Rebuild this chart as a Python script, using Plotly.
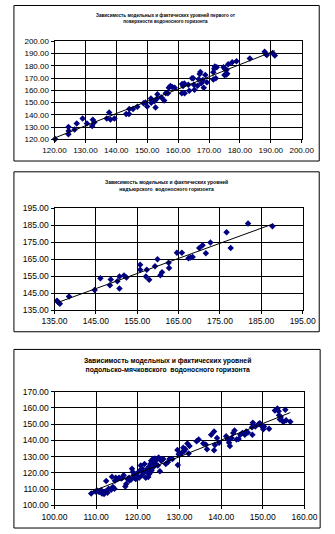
import numpy as np
import plotly.graph_objects as go

W, H = 335, 534

# ---------- Panel 1 data ----------
title1 = "Зависимость модельных и фактических уровней первого от<br>поверхности водоносного горизонта"
x1 = [120.2, 124.5, 124.6, 124.5, 126.5, 127.2, 129.1, 130.5, 132.2, 132.4, 132.9, 136.9, 137.7, 138.1,
      139.4, 143.2, 144.1, 144.2, 145.4, 146.8, 148.8, 149.4, 150.0, 151.2, 151.3, 152.3, 152.7, 153.1,
      153.3, 154.6, 155.5, 156.0, 156.7, 157.0, 157.5, 158.1, 158.9, 161.2, 161.3, 161.6, 162.0, 162.1,
      163.3, 163.6, 164.5, 164.9, 165.1, 165.3, 166.3, 166.7, 167.0, 167.2, 167.5, 168.0, 168.3, 168.8,
      169.3, 171.4, 171.4, 171.7, 171.9, 172.2, 172.5, 174.7, 175.0, 175.2, 175.5, 175.7, 175.9, 176.2,
      177.5, 178.9, 183.2, 188.0, 188.4, 188.7, 190.6, 191.3]
y1 = [120.3, 130.1, 126.9, 124.3, 128.0, 133.0, 137.0, 133.0, 131.0, 136.0, 134.0, 137.0, 141.9, 136.3,
      137.0, 140.8, 140.8, 144.8, 144.8, 146.7, 149.6, 150.1, 146.9, 153.3, 149.9, 151.2, 146.1, 153.1,
      156.8, 154.1, 151.7, 157.6, 157.6, 162.1, 163.5, 162.7, 162.1, 157.6, 165.1, 163.5, 165.6, 157.6,
      164.5, 159.7, 169.9, 169.9, 164.5, 160.5, 163.7, 169.1, 173.3, 174.9, 165.9, 168.5, 162.1, 172.5,
      166.7, 168.8, 174.7, 177.6, 179.5, 169.9, 178.9, 178.9, 172.5, 177.3, 172.8, 176.8, 173.6, 181.3,
      182.9, 183.7, 185.9, 191.5, 189.6, 188.8, 190.4, 188.5]

# ---------- Panel 2 data ----------
title2 = "Зависимость модельных и фактических уровней<br>надъюрского  водоносного горизонта"
x2 = [135.6, 135.9, 136.3, 138.5, 144.7, 146.1, 148.4, 148.6, 150.2, 150.7, 150.7, 151.8, 152.4, 155.7,
      155.7, 157.1, 157.3, 157.9, 159.3, 159.9, 160.6, 161.0, 162.6, 162.7, 164.6, 165.8, 167.4, 167.9,
      168.4, 170.0, 170.8, 171.6, 172.7, 176.6, 177.6, 181.8, 187.7]
y2 = [140.6, 139.6, 138.8, 143.1, 146.9, 153.8, 149.7, 153.1, 152.0, 154.8, 147.7, 155.4, 154.2, 161.7,
      158.7, 154.8, 158.7, 152.9, 160.8, 165.0, 155.6, 157.3, 162.9, 159.8, 168.8, 168.8, 165.6, 166.0,
      166.3, 171.5, 173.1, 168.5, 174.8, 180.8, 171.5, 185.9, 184.4]

# ---------- Panel 3 data ----------
title3 = "Зависимость модельных и фактических уровней<br>подольско-мячковского  водоносного горизонта"
x3 = [108.8, 109.8, 110.3, 110.7, 111.2, 111.4, 111.9, 112.2, 112.4, 112.7, 113.0, 113.6, 114.0, 113.8,
      114.4, 114.5, 114.7, 115.1, 115.5, 116.0, 116.3, 116.6, 117.0, 117.2, 117.5, 117.9, 118.0, 118.4,
      118.6, 118.8, 119.0, 119.2, 119.5, 119.7, 119.9, 120.3, 120.5, 120.7, 121.0, 121.1, 121.4, 121.6,
      121.9, 122.1, 122.3, 122.5, 122.6, 122.8, 123.0, 123.2, 123.3, 123.6, 123.7, 123.9, 124.1, 124.3,
      124.5, 124.8, 125.0, 125.3, 125.6, 126.1, 126.7, 127.2, 127.6, 128.3, 129.5, 129.6, 129.8, 130.2,
      130.6, 130.9, 131.1, 131.4, 131.9, 132.2, 132.4, 134.1, 134.6, 135.7, 136.3, 136.6, 137.6, 138.3,
      138.3, 138.5, 139.0, 139.5, 141.2, 141.6, 141.9, 142.1, 142.5, 142.9, 143.2, 143.7, 144.2, 144.6,
      145.1, 145.7, 146.0, 146.4, 147.4, 147.6, 147.5, 148.2, 149.0, 149.3, 149.7, 150.1, 150.3, 151.5,
      152.9, 153.5, 153.8, 153.9, 154.1, 154.3, 154.7, 155.0, 155.4, 155.6, 156.6]
y3 = [107.4, 108.6, 109.0, 108.2, 109.4, 107.4, 107.0, 108.6, 115.0, 107.8, 110.2, 109.6, 111.4, 117.7,
      110.2, 115.2, 117.0, 116.2, 117.0, 116.5, 117.1, 118.5, 111.6, 113.2, 116.2, 117.0, 115.4, 116.0,
      122.5, 120.5, 118.5, 117.0, 116.2, 119.5, 117.5, 117.0, 121.5, 124.5, 118.5, 122.5, 120.1, 125.5,
      117.0, 120.5, 122.5, 117.5, 123.5, 119.5, 125.5, 127.5, 121.5, 128.5, 123.5, 126.5, 128.9, 125.5,
      128.1, 124.5, 129.5, 121.0, 127.5, 128.5, 125.5, 126.5, 128.5, 128.5, 134.1, 124.9, 131.5, 131.5,
      132.5, 135.5, 133.5, 134.5, 138.1, 131.9, 136.5, 139.5, 140.5, 138.1, 137.5, 134.5, 143.5, 145.5,
      133.9, 137.1, 141.5, 138.5, 142.5, 140.5, 138.5, 136.5, 141.5, 144.5, 146.1, 140.5, 140.9, 143.5,
      144.5, 143.5, 145.5, 144.9, 148.1, 150.9, 143.5, 148.5, 150.1, 150.5, 148.9, 146.9, 148.5, 147.1,
      158.4, 159.6, 158.0, 155.4, 152.8, 154.4, 152.0, 151.5, 158.8, 152.4, 151.5]

panels = [
    dict(x=x1, y=y1, title=title1, xr=[120, 200], yr=[120, 200],
         px=(45, 313), py=(37, 137), box=(1, 332, 0.5, 159), tpos=(166, 13.5), tfs=4.6, fs=8),
    dict(x=x2, y=y2, title=title2, xr=[135, 195], yr=[135, 195],
         px=(45, 314), py=(207, 311), box=(1, 332, 170, 333), tpos=(166, 184), tfs=5.0, fs=8.5),
    dict(x=x3, y=y3, title=title3, xr=[100, 160], yr=[100, 170],
         px=(45, 316), py=(394, 510), box=(1, 333, 351, 533), tpos=(168, 367.5), tfs=6.8, fs=8.5),
]

fig = go.Figure()
shapes = []
annotations = []
for i, p in enumerate(panels, start=1):
    xa = "x" if i == 1 else f"x{i}"
    ya = "y" if i == 1 else f"y{i}"
    xs = np.array(p["x"])
    ys = np.array(p["y"])
    k, b = np.polyfit(xs, ys, 1)
    lx = np.array([xs.min(), xs.max()])
    fig.add_trace(go.Scatter(x=xs, y=ys, mode="markers", xaxis=xa, yaxis=ya, cliponaxis=False,
                             marker=dict(symbol="diamond", size=5, color="#000080",
                                         line=dict(width=0)),
                             showlegend=False))
    fig.add_trace(go.Scatter(x=lx, y=k * lx + b, mode="lines", xaxis=xa, yaxis=ya,
                             line=dict(color="black", width=1), showlegend=False))
    axcommon = dict(showgrid=True, gridcolor="black", gridwidth=1, showline=True,
                    linecolor="black", linewidth=1, mirror=True, ticks="outside",
                    ticklen=3, tickcolor="black", tickformat=".2f", dtick=10,
                    zeroline=False, tickfont=dict(family="Liberation Sans, Arial", size=p["fs"], color="black"))
    fig.layout[f"xaxis{'' if i == 1 else i}"] = dict(
        axcommon, range=p["xr"], tick0=p["xr"][0], anchor=ya,
        domain=[p["px"][0] / W, p["px"][1] / W], tickangle=0)
    fig.layout[f"yaxis{'' if i == 1 else i}"] = dict(
        axcommon, range=p["yr"], tick0=p["yr"][0], anchor=xa,
        domain=[1 - p["py"][1] / H, 1 - p["py"][0] / H])
    x0, x1b, y0, y1b = p["box"]
    shapes.append(dict(type="rect", xref="paper", yref="paper",
                       x0=x0 / W, x1=x1b / W, y0=1 - y1b / H, y1=1 - y0 / H,
                       line=dict(color="black", width=1), fillcolor="rgba(0,0,0,0)", layer="below"))
    annotations.append(dict(text="<b>" + p["title"] + "</b>", xref="paper", yref="paper",
                            x=p["tpos"][0] / W, y=1 - p["tpos"][1] / H, showarrow=False,
                            xanchor="center", yanchor="middle", align="center",
                            font=dict(family="Liberation Sans, Arial", size=p["tfs"], color="black")))

fig.update_layout(width=W, height=H, margin=dict(l=0, r=0, t=0, b=0),
                  paper_bgcolor="white", plot_bgcolor="white",
                  shapes=shapes, annotations=annotations)
fig.write_html("out.html", config={"displayModeBar": False})
